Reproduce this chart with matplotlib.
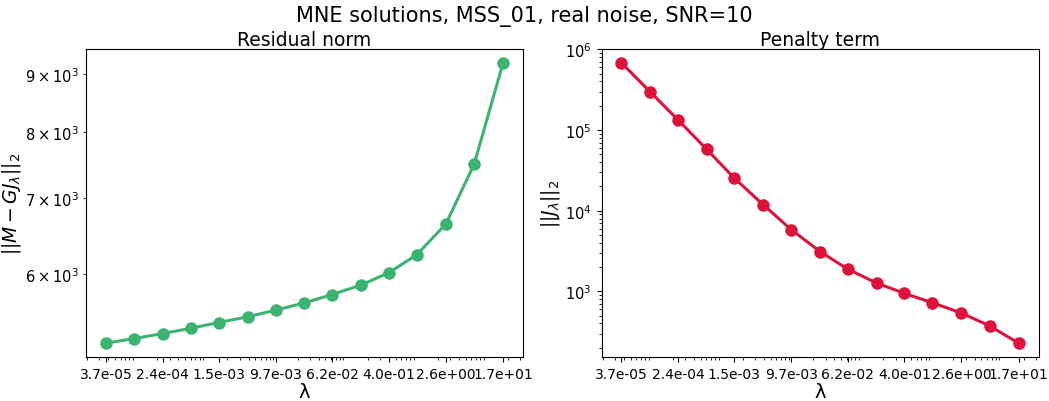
import numpy as np
import matplotlib.pyplot as plt

# regularisation parameters (lambda) and the two norms
lambdas = [3.7e-05, 9.4e-05, 2.4e-04, 6.1e-04, 1.5e-03, 3.9e-03, 9.7e-03, 2.5e-02,
           6.2e-02, 1.6e-01, 4.0e-01, 1.0e+00, 2.6e+00, 6.6e+00, 1.7e+01]
residual_norm = [5220, 5269, 5323, 5381, 5443, 5507, 5580, 5664,
                 5760, 5872, 6021, 6244, 6646, 7506, 9211]
penalty_term = [6.8e5, 3.0e5, 1.32e5, 5.74e4, 2.54e4, 1.18e4, 5.84e3, 3.12e3,
                1.89e3, 1.27e3, 945, 723, 539, 372, 228]
tick_lambdas = lambdas[::2]
tick_labels = ['%.1e' % l for l in tick_lambdas]

fig, axes = plt.subplots(1, 2, figsize=(10.49, 4.02), dpi=100)
fig.subplots_adjust(left=0.082, right=0.990, bottom=0.109, top=0.876, wspace=0.18)

ax = axes[0]
ax.plot(lambdas, residual_norm, marker='o', color='mediumseagreen', lw=2.2, ms=8)
ax.set_xscale('log')
ax.set_yscale('log')
ax.set_xticks(tick_lambdas, tick_labels)
ax.set_title('Residual norm', fontsize=13.5, pad=3)
ax.set_xlabel('λ', fontsize=14, labelpad=1)
ax.set_ylabel(r'$||M - GJ_\lambda||_2$', fontsize=13.5, labelpad=1)
ax.tick_params(axis='x', labelsize=10, which='both')
ax.tick_params(axis='y', labelsize=10.5, which='both')

ax = axes[1]
ax.plot(lambdas, penalty_term, marker='o', color='crimson', lw=2.2, ms=8)
ax.set_xscale('log')
ax.set_yscale('log')
ax.set_xticks(tick_lambdas, tick_labels)
ax.set_title('Penalty term', fontsize=13.5, pad=3)
ax.set_xlabel('λ', fontsize=14, labelpad=1)
ax.set_ylabel(r'$||J_\lambda||_2$', fontsize=13.5, labelpad=2)
ax.tick_params(axis='x', labelsize=10, which='both')
ax.tick_params(axis='y', labelsize=10.5, which='both')

fig.suptitle('MNE solutions, MSS_01, real noise, SNR=10', fontsize=15, y=0.985)
fig.savefig('out.png')
